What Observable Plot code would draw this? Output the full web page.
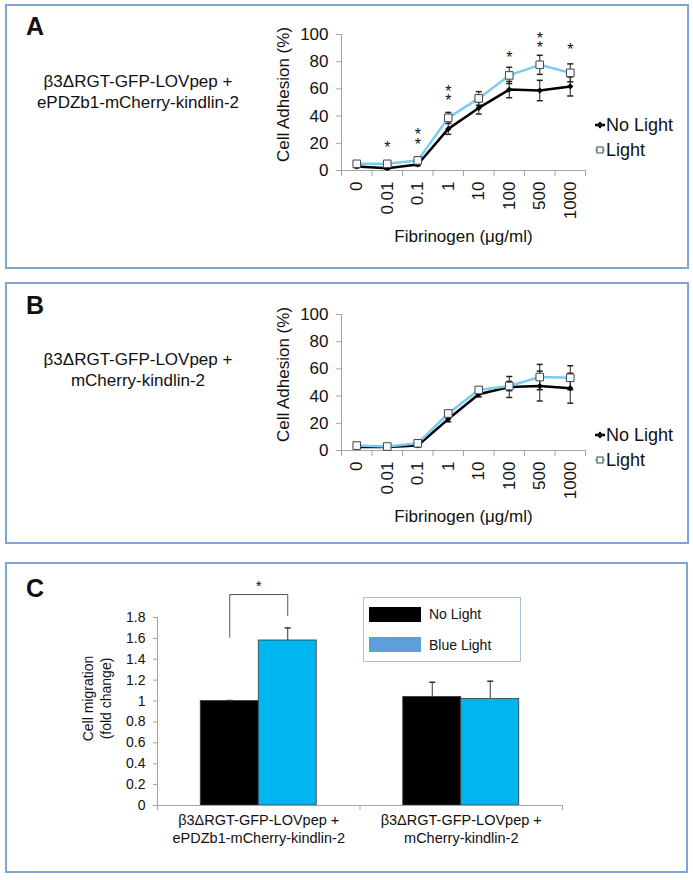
<!DOCTYPE html>
<html><head><meta charset="utf-8">
<script src="https://cdn.jsdelivr.net/npm/d3@7"></script>
<script src="https://cdn.jsdelivr.net/npm/@observablehq/plot@0.6"></script>
<style>
body{margin:0;background:#fff;font-family:"Liberation Sans",Arial,sans-serif;color:#111}
#root{position:relative;width:693px;height:880px;overflow:hidden;background:#fff}
.frame{position:absolute;box-sizing:border-box;border:2px solid #7fa5d5}
.abs{position:absolute;white-space:nowrap}
.letter{font-weight:bold;font-size:25px;line-height:1}
.desc{font-size:17px;line-height:21px;text-align:center;width:262px}
</style></head><body><div id="root"></div><script>
// ---------- data ----------
const doses = ["0", "0.01", "0.1", "1", "10", "100", "500", "1000"];
const aNoLight    = [3.0, 1.7, 4.4, 30.6, 46.0, 59.5, 58.8, 61.8];
const aNoLightErr = [1.0, 0.8, 1.0, 4.0, 4.5, 6.0, 7.5, 7.0];
const aLight      = [4.9, 4.9, 7.4, 38.7, 53.0, 69.9, 77.7, 71.8];
const aLightErr   = [1.0, 1.0, 1.2, 4.0, 5.0, 6.0, 7.0, 6.6];
const aStars      = ["", "*", "**", "**", "", "*", "**", "*"];
const aStarLevel  = [null, 18, 24, 56, null, 84.5, 95, 90];
const bNoLight    = [2.5, 2.5, 3.7, 23.1, 41.4, 46.7, 47.4, 45.8];
const bNoLightErr = [1.0, 1.0, 1.0, 2.0, 2.0, 7.7, 11.0, 11.0];
const bLight      = [3.6, 2.9, 5.3, 27.2, 44.5, 47.4, 54.0, 53.5];
const bLightErr   = [1.0, 1.0, 1.0, 2.0, 2.0, 3.4, 9.3, 8.8];
const adhesionTicks = [0, 20, 40, 60, 80, 100];
const groups = ["β3ΔRGT-GFP-LOVpep +\nePDZb1-mCherry-kindlin-2", "β3ΔRGT-GFP-LOVpep +\nmCherry-kindlin-2"];
const cSeries = ["No Light", "Blue Light"];
const cNoLight    = [1.00, 1.04];
const cNoLightErr = [0.005, 0.14];
const cBlue       = [1.58, 1.02];
const cBlueErr    = [0.12, 0.17];
const cYTicks = [0, 0.2, 0.4, 0.6, 0.8, 1, 1.2, 1.4, 1.6, 1.8];
const cBracket = [1.61, 2.02, 1.82]; // left foot, top, right foot
const cStarLevel = 2.14;

// ---------- styles ----------
const FONT = '"Liberation Sans", Arial, sans-serif';
const GRAY = "#a3a3a3";
const LIGHTBLUE = "#7ccbf0";
const BARBLUE = "#00b6f0";
const LEGBLUE = "#5f9edb";
const capSymbol = {draw(ctx, size) { const w = Math.sqrt(size) / 2; ctx.moveTo(-w, 0); ctx.lineTo(w, 0); }};

const root = document.getElementById("root");
function place(el, left, top) { el.style.position = "absolute"; el.style.left = left + "px"; el.style.top = top + "px"; root.appendChild(el); return el; }
function div(cls, html, left, top, extra) { const d = document.createElement("div"); d.className = cls; d.innerHTML = html; if (extra) d.style.cssText += extra; return place(d, left, top); }

// frames
div("frame", "", 5, 4, "width:684px;height:265px");
div("frame", "", 5, 282, "width:684px;height:262px");
div("frame", "", 5, 562, "width:683px;height:311px");
div("abs letter", "A", 26, 14);
div("abs letter", "B", 26, 293);
div("abs letter", "C", 26, 576);
div("abs desc", "β3ΔRGT-GFP-LOVpep +<br>ePDZb1-mCherry-kindlin-2", 7, 71);
div("abs desc", "β3ΔRGT-GFP-LOVpep +<br>mCherry-kindlin-2", 7, 349);

function adhesionPlot(noLight, noErr, light, lightErr, stars, starLevels) {
  const rows = doses.map((d, i) => ({
    x: i + 0.5, nl: noLight[i], nle: noErr[i], l: light[i], le: lightErr[i],
    star: stars ? stars[i].split("").join("\n") : "", sy: starLevels ? starLevels[i] : null
  }));
  return Plot.plot({
    width: 350, height: 235, marginLeft: 91, marginRight: 15, marginTop: 14, marginBottom: 85,
    x: {type: "linear", domain: [0, doses.length]},
    y: {domain: [0, 100]},
    style: {fontFamily: FONT, fontSize: "17px", color: "#111", background: "transparent", overflow: "visible"},
    marks: [
      Plot.ruleY([0], {stroke: GRAY}),
      Plot.ruleX([0], {stroke: GRAY}),
      Plot.axisY({ticks: adhesionTicks, tickSize: 5, tickPadding: 8, stroke: GRAY, label: null, fontSize: 17}),
      Plot.axisX({ticks: d3.range(doses.length + 1), tickSize: 6, tickFormat: () => "", stroke: GRAY, label: null}),
      Plot.axisX({ticks: doses.map((d, i) => i + 0.5), tickSize: 0, tickPadding: 11, tickRotate: -90,
                  tickFormat: v => doses[Math.floor(v)], label: null, fontSize: 17}),
      Plot.text(["Fibrinogen (μg/ml)"], {frameAnchor: "bottom", textAnchor: "middle", dy: 71, fontSize: 17}),
      Plot.text(["Cell Adhesion (%)"], {frameAnchor: "left", textAnchor: "middle", rotate: -90, dx: -58, dy: -8, fontSize: 17}),
      Plot.ruleX(rows, {x: "x", y1: d => d.nl - d.nle, y2: d => d.nl + d.nle, stroke: "#222", strokeWidth: 1}),
      Plot.dot(rows, {x: "x", y: d => d.nl - d.nle, symbol: capSymbol, r: 3.4, stroke: "#222", fill: "none"}),
      Plot.dot(rows, {x: "x", y: d => d.nl + d.nle, symbol: capSymbol, r: 3.4, stroke: "#222", fill: "none"}),
      Plot.ruleX(rows, {x: "x", y1: d => d.l - d.le, y2: d => d.l + d.le, stroke: "#222", strokeWidth: 1}),
      Plot.dot(rows, {x: "x", y: d => d.l - d.le, symbol: capSymbol, r: 3.4, stroke: "#222", fill: "none"}),
      Plot.dot(rows, {x: "x", y: d => d.l + d.le, symbol: capSymbol, r: 3.4, stroke: "#222", fill: "none"}),
      Plot.line(rows, {x: "x", y: "nl", stroke: "#000", strokeWidth: 2.5}),
      Plot.line(rows, {x: "x", y: "l", stroke: LIGHTBLUE, strokeWidth: 2.5}),
      Plot.dot(rows, {x: "x", y: "nl", symbol: "diamond2", r: 2.8, fill: "#000", stroke: "none"}),
      Plot.dot(rows, {x: "x", y: "l", symbol: "square", r: 4.3, fill: "#f4fbff", stroke: "#444", strokeWidth: 1}),
      Plot.text(rows.filter(d => d.star), {x: "x", y: "sy", text: "star", lineHeight: 0.6, fontSize: 16, dy: 4})
    ]
  });
}

function lineLegend(top) {
  const mk = (y, light) => {
    const s = document.createElementNS("http://www.w3.org/2000/svg", "svg");
    s.setAttribute("width", 14); s.setAttribute("height", 12);
    s.innerHTML = light
      ? `<line x1="1" x2="11" y1="6" y2="6" stroke="${LIGHTBLUE}" stroke-width="2.5"/><rect x="3" y="3" width="6" height="6" fill="#f4fbff" stroke="#444" stroke-width="1"/>`
      : `<line x1="1" x2="11" y1="6" y2="6" stroke="#000" stroke-width="2.5"/><path d="M6,2.5L9.5,6L6,9.5L2.5,6Z" fill="#000"/>`;
    place(s, 594, y - 6);
  };
  mk(top, false); mk(top + 25, true);
  div("abs", "No Light", 606, top - 10, "font-size:18px;line-height:20px");
  div("abs", "Light", 606, top + 15, "font-size:18px;line-height:20px");
}

place(adhesionPlot(aNoLight, aNoLightErr, aLight, aLightErr, aStars, aStarLevel), 250, 20);
lineLegend(125);
place(adhesionPlot(bNoLight, bNoLightErr, bLight, bLightErr, null, null), 250, 300);
lineLegend(435);

// ---------- panel C ----------
const halfW = 0.1432;
const cRows = groups.flatMap((g, i) => [
  {series: cSeries[0], c: i + 0.5 - halfW, v: cNoLight[i], e: cNoLightErr[i]},
  {series: cSeries[1], c: i + 0.5 + halfW, v: cBlue[i], e: cBlueErr[i]}
]);
const bx0 = 0.5 - halfW, bx1 = 0.5 + halfW;
const bracket = [
  {x: bx0, y: cBracket[0]}, {x: bx0, y: cBracket[1]},
  {x: bx1, y: cBracket[1]}, {x: bx1, y: cBracket[2]}
];
const cPlot = Plot.plot({
  width: 520, height: 295, marginLeft: 97, marginRight: 18, marginTop: 47, marginBottom: 60,
  x: {type: "linear", domain: [0, groups.length]},
  y: {domain: [0, 1.8]},
  color: {domain: cSeries, range: ["#000", BARBLUE]},
  style: {fontFamily: FONT, fontSize: "14px", color: "#111", background: "transparent", overflow: "visible"},
  marks: [
    Plot.rectY(cRows, {x1: d => d.c - halfW, x2: d => d.c + halfW, y1: 0, y2: "v", fill: "series", stroke: "#3a3a3a", strokeWidth: 0.8}),
    Plot.ruleX(cRows, {x: "c", y1: "v", y2: d => d.v + d.e, stroke: "#333", strokeWidth: 1}),
    Plot.dot(cRows, {x: "c", y: d => d.v + d.e, symbol: capSymbol, r: 3.4, stroke: "#333", fill: "none"}),
    Plot.ruleX([0], {stroke: GRAY}),
    Plot.ruleY([0], {stroke: GRAY}),
    Plot.axisY({ticks: cYTicks, tickSize: 4, tickPadding: 8, stroke: GRAY, label: null, fontSize: 14,
                tickFormat: d => String(+d.toFixed(1))}),
    Plot.axisX({ticks: d3.range(groups.length + 1), tickSize: 5, tickFormat: () => "", stroke: GRAY, label: null}),
    Plot.text(groups, {x: (d, i) => i + 0.5, frameAnchor: "bottom", lineAnchor: "top", dy: 7, fontSize: 14.5, lineHeight: 1.25}),
    Plot.text(["Cell migration\n(fold change)"], {frameAnchor: "left", textAnchor: "middle", rotate: -90, dx: -61, dy: -13, fontSize: 14, lineHeight: 1.25}),
    Plot.line(bracket, {x: "x", y: "y", stroke: "#555", strokeWidth: 1}),
    Plot.text(["*"], {x: 0.5, y: cStarLevel, dy: 4, fontSize: 15})
  ]
});
place(cPlot, 60, 570);

// legend C
div("abs", "", 363, 597, "width:158px;height:65px;box-sizing:border-box;border:1px solid #a7bfdd;background:#fff");
div("abs", "", 369, 607, `width:52px;height:15px;background:#000`);
div("abs", "", 369, 637, `width:52px;height:15px;background:${LEGBLUE}`);
div("abs", "No Light", 429, 605, "font-size:14px;line-height:18px");
div("abs", "Blue Light", 429, 636, "font-size:14px;line-height:18px");
</script></body></html>
